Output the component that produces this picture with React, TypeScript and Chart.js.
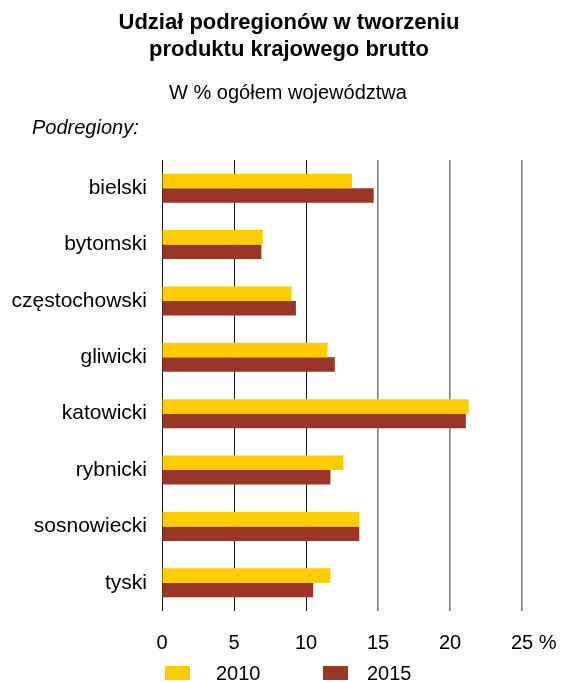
import React, { useEffect, useRef } from "react";
import { Chart, registerables } from "chart.js";

Chart.register(...registerables);

const categories = ["bielski", "bytomski", "częstochowski", "gliwicki", "katowicki", "rybnicki", "sosnowiecki", "tyski"];
const values2010 = [13.2, 7.0, 9.0, 11.5, 21.3, 12.6, 13.7, 11.7];
const values2015 = [14.7, 6.9, 9.3, 12.0, 21.1, 11.7, 13.7, 10.5];
const seriesLabels = ["2010", "2015"];
const xTicks = [0, 5, 10, 15, 20, 25];
const titleLines = ["Udział podregionów w tworzeniu", "produktu krajowego brutto"];
const subtitle = "W % ogółem województwa";
const axisCaption = "Podregiony:";
const unitLabel = "%";

const YELLOW = "#FFCC00";
const BROWN = "#9B3526";
const FONT = "'Liberation Sans', Arial, Helvetica, sans-serif";

export default function App() {
  const ref = useRef<HTMLCanvasElement | null>(null);

  useEffect(() => {
    if (!ref.current) return;
    const unitPlugin = {
      id: "unitPlugin",
      afterDraw(chart: any) {
        const ctx = chart.ctx;
        const xs = chart.scales.x;
        const last = xTicks[xTicks.length - 1];
        const px = xs.getPixelForValue(last);
        ctx.save();
        ctx.font = `20px ${FONT}`;
        ctx.fillStyle = "#000";
        ctx.textBaseline = "middle";
        ctx.textAlign = "left";
        const w = ctx.measureText(String(last)).width;
        const sp = ctx.measureText(" ").width;
        ctx.fillText(unitLabel, px + w / 2 + sp, xs.top + 20 + 12);
        ctx.restore();
      },
    };
    const chart = new Chart(ref.current, {
      type: "bar",
      data: {
        labels: categories,
        datasets: [
          { label: seriesLabels[0], data: values2010, backgroundColor: YELLOW, borderWidth: 0 },
          { label: seriesLabels[1], data: values2015, backgroundColor: BROWN, borderWidth: 0 },
        ],
      },
      options: {
        indexAxis: "y",
        animation: false,
        responsive: false,
        events: [],
        layout: { padding: { top: 160, right: 41, bottom: 0, left: 0 } },
        datasets: { bar: { categoryPercentage: 0.515, barPercentage: 1 } },
        plugins: {
          legend: { display: false },
          title: { display: false },
          tooltip: { enabled: false },
        },
        scales: {
          x: {
            type: "linear",
            min: 0,
            max: 25,
            afterBuildTicks: (scale: any) => {
              scale.ticks = xTicks.map((v) => ({ value: v }));
            },
            afterFit: (scale: any) => {
              scale.height = 71;
            },
            border: { display: false },
            grid: {
              drawTicks: false,
              color: (c: any) => (c.index <= 2 ? "#1a1a1a" : "#808080"),
              lineWidth: (c: any) => (c.index <= 2 ? 1 : 1.6),
            },
            ticks: {
              padding: 20,
              color: "#000",
              font: { family: FONT, size: 20 },
              maxRotation: 0,
              callback: (v: any) => String(v),
            },
          },
          y: {
            afterFit: (scale: any) => {
              scale.width = 162;
            },
            border: { display: false },
            grid: { display: false, drawTicks: false },
            ticks: {
              padding: 15,
              color: "#000",
              font: { family: FONT, size: 21 },
            },
          },
        },
      },
      plugins: [unitPlugin],
    } as any);
    return () => chart.destroy();
  }, []);

  const textBase: React.CSSProperties = {
    position: "absolute",
    fontFamily: FONT,
    color: "#000",
    whiteSpace: "nowrap",
    margin: 0,
  };

  return (
    <div style={{ position: "fixed", left: 0, top: 0, width: 563, height: 682, background: "#fff", overflow: "hidden" }}>
      <canvas ref={ref} width={563} height={682} style={{ position: "absolute", left: 0, top: 0 }} />
      <div style={{ ...textBase, left: 0, width: 578, top: 8, textAlign: "center", fontWeight: "bold", fontSize: 22, lineHeight: "27px" }}>
        {titleLines.map((t, i) => (
          <div key={i}>{t}</div>
        ))}
      </div>
      <div style={{ ...textBase, left: 0, width: 576, top: 80, textAlign: "center", fontSize: 20, lineHeight: "24px" }}>{subtitle}</div>
      <div style={{ ...textBase, left: 32, top: 115, fontStyle: "italic", fontSize: 20, lineHeight: "24px" }}>{axisCaption}</div>
      <div style={{ position: "absolute", left: 165, top: 666, width: 25, height: 14, background: YELLOW }} />
      <div style={{ ...textBase, left: 216, top: 661, fontSize: 20, lineHeight: "24px" }}>{seriesLabels[0]}</div>
      <div style={{ position: "absolute", left: 323, top: 666, width: 25, height: 14, background: BROWN }} />
      <div style={{ ...textBase, left: 367, top: 661, fontSize: 20, lineHeight: "24px" }}>{seriesLabels[1]}</div>
    </div>
  );
}
